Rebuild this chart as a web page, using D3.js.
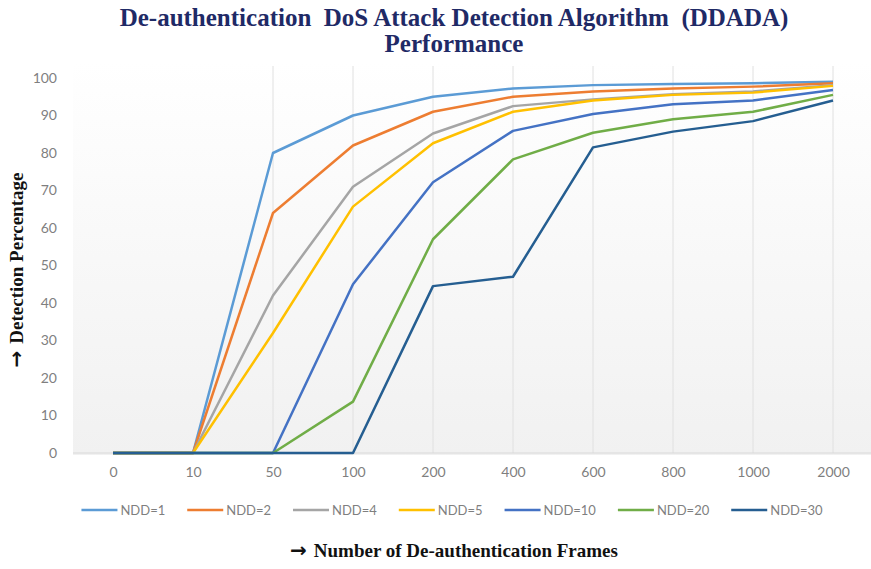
<!DOCTYPE html>
<html><head><meta charset="utf-8">
<script src="https://cdn.jsdelivr.net/npm/d3@7"></script>
<style>html,body{margin:0;padding:0;background:#fff;}svg{display:block;}</style>
</head><body>
<svg id="chart" width="871" height="569"></svg>
<script>
const categories = ["0","10","50","100","200","400","600","800","1000","2000"];
const yTicks = [0,10,20,30,40,50,60,70,80,90,100];
const seriesNames = ["NDD=1","NDD=2","NDD=4","NDD=5","NDD=10","NDD=20","NDD=30"];
const seriesColors = ["#5B9BD5","#ED7D31","#A5A5A5","#FFC000","#4472C4","#70AD47","#255E91"];
const ndd1  = [0,0,80,90,95,97.2,98.1,98.4,98.6,99];
const ndd2  = [0,0,64,82,91,95,96.4,97.2,97.7,98.6];
const ndd4  = [0,0,42,71,85.2,92.5,94.3,95.7,96.4,98.1];
const ndd5  = [0,0,32,65.7,82.6,91,94,95.5,96.1,97.9];
const ndd10 = [0,0,0,45,72.2,85.9,90.4,93,94,96.8];
const ndd20 = [0,0,0,13.7,57,78.3,85.4,89,91,95.5];
const ndd30 = [0,0,0,0,44.5,47,81.5,85.7,88.5,94];
const seriesValues = [ndd1,ndd2,ndd4,ndd5,ndd10,ndd20,ndd30];
const titleLines = ["De-authentication  DoS Attack Detection Algorithm  (DDADA)","Performance"];
const arrow = "\u2192";
const yTitle = "Detection Percentage";
const xTitle = "Number of De-authentication Frames";

const svg = d3.select("#chart");
const plotL = 73, plotR = 873, plotT = 62, plotB = 453;
const x = d3.scalePoint().domain(categories).range([plotL, plotR]).padding(0.5);
const y = d3.scaleLinear().domain([0,100]).range([plotB, 78]);

const defs = svg.append("defs");
const grad = defs.append("linearGradient").attr("id","bg").attr("x1",0).attr("y1",0).attr("x2",0).attr("y2",1);
grad.append("stop").attr("offset","0%").attr("stop-color","#ffffff");
grad.append("stop").attr("offset","100%").attr("stop-color","#f1f1f1");
svg.append("rect").attr("x",plotL).attr("y",plotT).attr("width",871-plotL).attr("height",plotB-plotT+2).attr("fill","url(#bg)");

// vertical gridlines
svg.append("g").selectAll("line").data(categories.slice(2)).join("line")
  .attr("x1",d=>x(d)).attr("x2",d=>x(d)).attr("y1",plotT+4).attr("y2",plotB)
  .attr("stroke","#e0e0e0").attr("stroke-width",1);

// x axis
const xAxis = svg.append("g").attr("transform",`translate(0,${plotB})`)
  .call(d3.axisBottom(x).tickSize(0).tickPadding(14));
xAxis.select(".domain").attr("stroke","#d9d9d9").attr("d",`M${plotL},0H871`);
xAxis.selectAll("text").attr("font-family","Lato, 'Open Sans', sans-serif").attr("font-size",14).attr("fill","#7f7f7f");

// y axis
const yAxis = svg.append("g").attr("transform",`translate(57,0)`)
  .call(d3.axisLeft(y).tickValues(yTicks).tickSize(0).tickPadding(0));
yAxis.select(".domain").remove();
yAxis.selectAll("text").attr("font-family","Lato, 'Open Sans', sans-serif").attr("font-size",14).attr("fill","#7f7f7f");

// lines
const line = d3.line().x((d,i)=>x(categories[i])).y(d=>y(d));
svg.append("g").selectAll("path").data(seriesValues).join("path")
  .attr("d",d=>line(d)).attr("fill","none")
  .attr("stroke",(d,i)=>seriesColors[i]).attr("stroke-width",2.5).attr("stroke-linejoin","round");

// title
svg.append("g").selectAll("text").data(titleLines).join("text")
  .attr("x",454).attr("y",(d,i)=>26+i*26).attr("text-anchor","middle")
  .attr("font-family","'Liberation Serif', 'Times New Roman', serif").attr("font-weight","bold")
  .attr("font-size",25).attr("fill","#1f2a66").style("white-space","pre").text(d=>d);

// axis titles
function axisTitle(sel, label){
  sel.attr("text-anchor","middle").attr("font-family","'Liberation Serif', serif")
    .attr("font-weight","bold").attr("font-size",19).attr("fill","#111");
  sel.append("tspan").attr("font-family","'DejaVu Sans', sans-serif").attr("font-size",20).text(arrow + " ");
  sel.append("tspan").text(label);
}
svg.append("text").attr("transform","translate(23,270) rotate(-90)").call(axisTitle, yTitle);
svg.append("text").attr("x",454).attr("y",557).call(axisTitle, xTitle);

// legend
const leg = svg.append("g");
let cx = 0;
seriesNames.forEach((n,i)=>{
  const g = leg.append("g");
  g.append("line").attr("x1",0).attr("x2",36).attr("y1",0).attr("y2",0)
    .attr("stroke",seriesColors[i]).attr("stroke-width",2.5);
  const t = g.append("text").attr("x",39).attr("y",5).attr("font-family","Lato, 'Open Sans', sans-serif")
    .attr("font-size",13).attr("fill","#7f7f7f").text(n);
  const w = 39 + t.node().getComputedTextLength();
  g.attr("transform",`translate(${cx},0)`);
  cx += w + 22;
});
const total = cx - 22;
leg.attr("transform",`translate(${452 - total/2},510)`);
</script>
</body></html>
